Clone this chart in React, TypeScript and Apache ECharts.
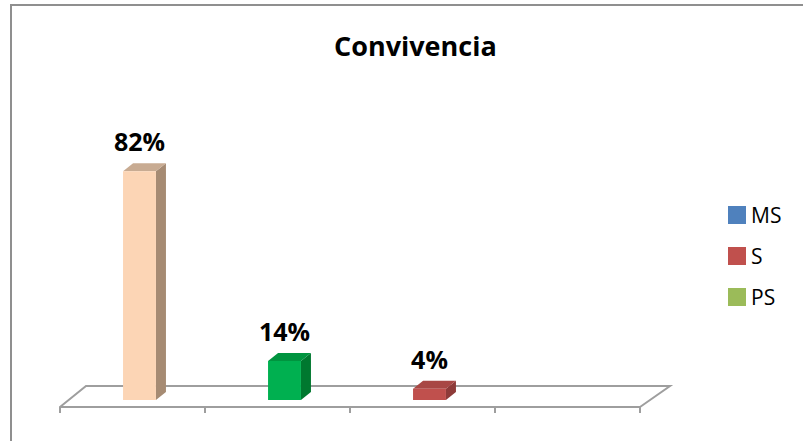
import React, { useEffect, useRef } from "react";
import * as echarts from "echarts";

// Category slots along the floor (four slots, the last one is empty)
const categories = ["1", "2", "3", "4"];
// Percentages shown above each bar
const values = [82, 14, 4];
// Legend entries
const legendNames = ["MS", "S", "PS"];
const legendColors = ["#4F81BD", "#C0504D", "#9BBB59"];

// Face colours for each bar: front, right side, top
const barFront = ["#FCD5B5", "#00B050", "#C0504D"];
const barSide = ["#A68B73", "#00782F", "#8E3B39"];
const barTop = ["#C8AB92", "#00943F", "#A84744"];

const FONT = "'Open Sans', 'DejaVu Sans', sans-serif";
const FLOOR_COLOR = "#9E9E9E";

export default function App() {
  const ref = useRef<HTMLDivElement>(null);

  useEffect(() => {
    if (!ref.current) return;
    const chart = echarts.init(ref.current, undefined, { renderer: "svg" });

    const barData = values.map((v, i) => [i, v]);

    chart.setOption({
      animation: false,
      backgroundColor: "#FFFFFF",
      title: {
        text: "Convivencia",
        left: 329,
        top: 27,
        textStyle: {
          fontFamily: FONT,
          fontWeight: "bold",
          fontSize: 27,
          color: "#000000",
        },
      },
      legend: {
        orient: "vertical",
        left: 723,
        top: 199,
        itemWidth: 18,
        itemHeight: 18,
        itemGap: 19,
        icon: "rect",
        selectedMode: false,
        data: legendNames,
        textStyle: {
          fontFamily: FONT,
          fontSize: 21,
          lineHeight: 22,
          color: "#000000",
        },
      },
      graphic: [
        {
          type: "rect",
          shape: { x: 11, y: 5, width: 900, height: 600 },
          style: { fill: "none", stroke: "#8F8F8F", lineWidth: 2 },
          silent: true,
        },
      ],
      grid: { left: 60, right: 163, top: 128, bottom: 34 },
      xAxis: {
        type: "category",
        data: categories,
        boundaryGap: true,
        axisLine: { show: true, lineStyle: { color: FLOOR_COLOR, width: 2 } },
        axisTick: {
          show: true,
          length: 6,
          interval: 0,
          lineStyle: { color: FLOOR_COLOR, width: 2 },
        },
        axisLabel: { show: false },
        splitLine: { show: false },
      },
      yAxis: {
        type: "value",
        min: 0,
        max: 100,
        show: false,
      },
      series: [
        // floor outline behind the bars
        {
          type: "custom",
          silent: true,
          data: [[0, 0]],
          renderItem: (params: any) => {
            const cs = params.coordSys;
            const yb = cs.y + cs.height;
            const x0 = cs.x;
            const x1 = cs.x + cs.width;
            return {
              type: "polyline",
              shape: {
                points: [
                  [x0, yb],
                  [x0 + 26, yb - 21],
                  [x1 + 30, yb - 21],
                  [x1, yb],
                ],
              },
              style: { fill: "none", stroke: FLOOR_COLOR, lineWidth: 2 },
            };
          },
        },
        // 3D-looking bars with value labels
        {
          type: "custom",
          silent: true,
          data: barData,
          renderItem: (params: any, api: any) => {
            const i = api.value(0);
            const v = api.value(1);
            const base = api.coord([i, 0]);
            const top = api.coord([i, v]);
            const band = api.size([1, 0])[0];
            const w = band * 0.227;
            const dx = 10;
            const dy = 8;
            const cx = base[0] + 7;
            const xl = cx - w / 2;
            const xr = cx + w / 2;
            const yb = base[1] - 7;
            const yt = top[1] - 7;
            const idx = params.dataIndex;
            return {
              type: "group",
              children: [
                {
                  type: "polygon",
                  shape: {
                    points: [
                      [xr, yt],
                      [xr + dx, yt - dy],
                      [xr + dx, yb - dy],
                      [xr, yb],
                    ],
                  },
                  style: { fill: barSide[idx] },
                },
                {
                  type: "polygon",
                  shape: {
                    points: [
                      [xl, yt],
                      [xl + dx, yt - dy],
                      [xr + dx, yt - dy],
                      [xr, yt],
                    ],
                  },
                  style: { fill: barTop[idx] },
                },
                {
                  type: "rect",
                  shape: { x: xl, y: yt, width: w, height: yb - yt },
                  style: { fill: barFront[idx] },
                },
                {
                  type: "text",
                  x: cx,
                  y: yt - dy - 22,
                  style: {
                    text: `${v}%`,
                    fontFamily: FONT,
                    fontWeight: "bold",
                    fontSize: 25,
                    fill: "#000000",
                    textAlign: "center",
                    textVerticalAlign: "middle",
                  },
                },
              ],
            };
          },
        },
        // legend-only entries
        ...legendNames.map((name, k) => ({
          name,
          type: "bar",
          data: [],
          itemStyle: { color: legendColors[k] },
        })),
      ],
    });

    return () => chart.dispose();
  }, []);

  return (
    <div
      ref={ref}
      style={{ position: "absolute", left: 0, top: 0, width: 803, height: 441 }}
    />
  );
}
